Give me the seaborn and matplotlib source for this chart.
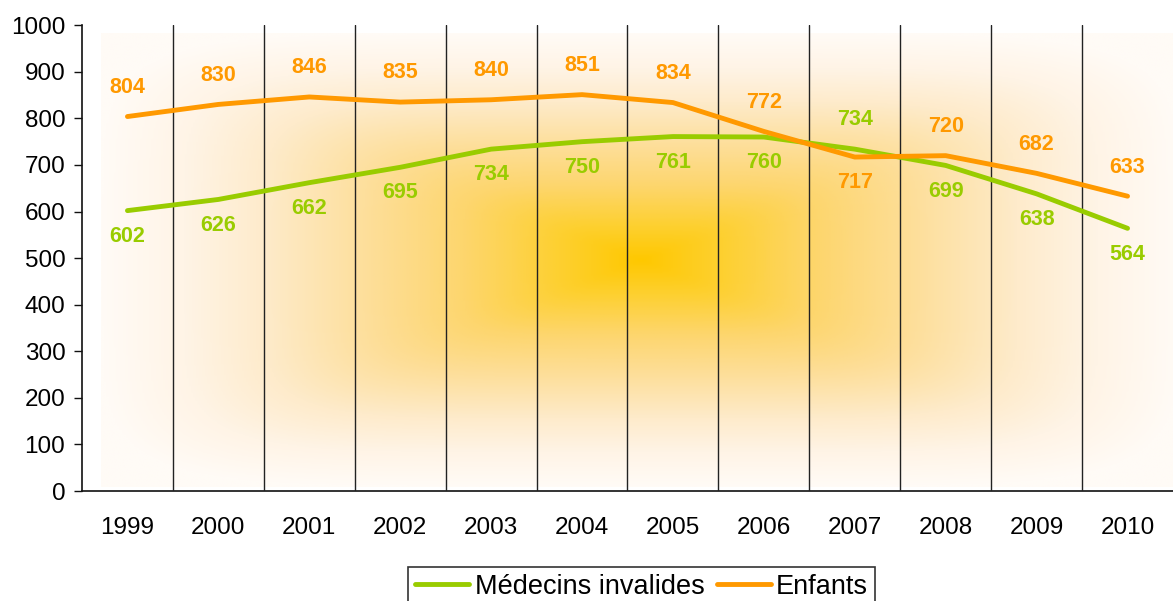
import numpy as np
import pandas as pd
import matplotlib
matplotlib.use("Agg")
import matplotlib.pyplot as plt
from matplotlib.colors import LinearSegmentedColormap
import seaborn as sns

years = ["1999", "2000", "2001", "2002", "2003", "2004", "2005", "2006", "2007", "2008", "2009", "2010"]
medecins = [602, 626, 662, 695, 734, 750, 761, 760, 734, 699, 638, 564]
enfants = [804, 830, 846, 835, 840, 851, 834, 772, 717, 720, 682, 633]

green = "#99CC00"
orange = "#FF9900"

sns.set_theme(style="white")
plt.rcParams['font.family'] = ['Liberation Sans', 'DejaVu Sans']

df = pd.DataFrame({"Année": years * 2,
                   "Valeur": medecins + enfants,
                   "Série": ["Médecins invalides"] * len(years) + ["Enfants"] * len(years)})

fig = plt.figure(figsize=(11.73, 6.01), dpi=100)
ax = fig.add_axes([0.0699, 0.183, 0.9301, 0.775])

# background glow: soft rectangular gradient from the centre
gx = np.linspace(-1, 1, 500)
gy = np.linspace(-1, 1, 400)
GX, GY = np.meshgrid(gx, gy)
t = (np.abs(GX) ** 6 + np.abs(GY) ** 6) ** (1 / 6)
t = np.clip(t, 0, 1)
glow = LinearSegmentedColormap.from_list(
    "glow", [(0, "#FFC800"), (0.15, "#FDD030"), (0.33, "#FDD66E"), (0.5, "#FDDE98"),
             (0.7, "#FEEBCB"), (0.85, "#FFF4E6"), (1, "#FFFBF6")])
ax.imshow(t, cmap=glow, vmin=0, vmax=1, extent=(-0.29, 11.59, 9, 983),
          aspect="auto", interpolation="bilinear", zorder=0)

sns.lineplot(data=df, x="Année", y="Valeur", hue="Série", palette=[green, orange],
             linewidth=3.5, ax=ax, zorder=3, sort=False)

ax.set_xlim(-0.5, 11.5)
ax.set_ylim(0, 1000)
ax.set_yticks(np.arange(0, 1001, 100))
ax.set_xticks(range(len(years)))
ax.set_xticklabels(years)
ax.set_xticks(np.arange(0.5, len(years) - 1, 1), minor=True)
ax.grid(which="minor", axis="x", color="#222222", linewidth=1.0, zorder=1)
ax.grid(which="major", axis="both", visible=False)
ax.set_axisbelow(False)
ax.set_xlabel("")
ax.set_ylabel("")

for s in ["top", "right"]:
    ax.spines[s].set_visible(False)
for s in ["left", "bottom"]:
    ax.spines[s].set_color("#111111")
    ax.spines[s].set_linewidth(1.2)

ax.tick_params(axis="y", which="major", left=True, length=6, width=1, color="#111111",
               labelsize=17.5, pad=6, labelcolor="black")
ax.tick_params(axis="x", which="both", bottom=False, labelsize=17.5, pad=13, labelcolor="black")
ax.tick_params(axis="x", which="minor", bottom=False)

# value labels: higher series above its line, lower series below
for i in range(len(years)):
    m, e = medecins[i], enfants[i]
    if e >= m:
        top, tc, bot, bc = e, orange, m, green
    else:
        top, tc, bot, bc = m, green, e, orange
    ax.annotate(str(top), (i, top), xytext=(0, 21), textcoords="offset points",
                ha="center", va="center", color=tc, fontsize=15.5, fontweight="bold")
    ax.annotate(str(bot), (i, bot), xytext=(0, -18.5), textcoords="offset points",
                ha="center", va="center", color=bc, fontsize=15.5, fontweight="bold")

ax.get_legend().remove()
handles, labels = ax.get_legend_handles_labels()
leg = fig.legend(handles, labels, loc="upper center", bbox_to_anchor=(0.547, 0.057),
                 ncol=2, frameon=True, fancybox=False, edgecolor="black", fontsize=19.5,
                 handlelength=2.0, handletextpad=0.2, columnspacing=0.45, borderpad=0.25,
                 borderaxespad=0)
leg.get_frame().set_linewidth(1.2)
for txt in leg.get_texts():
    txt.set_color("black")
for h in leg.get_lines():
    h.set_linewidth(3.5)

fig.savefig("out.png", dpi=100)
